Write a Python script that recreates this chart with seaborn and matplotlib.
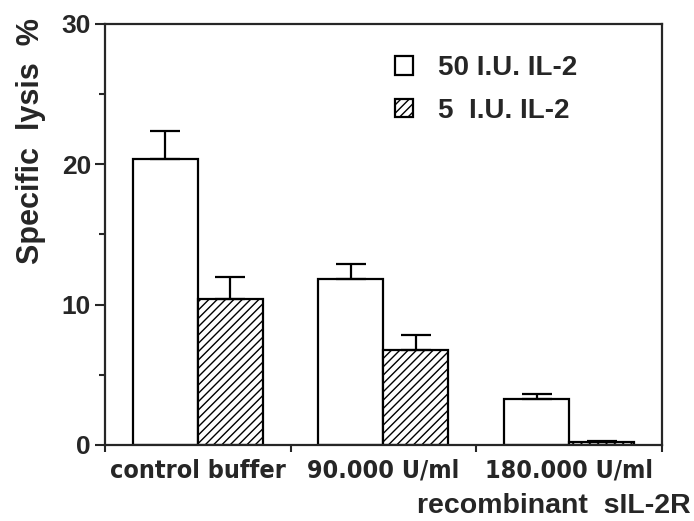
import pandas as pd
import matplotlib.pyplot as plt
import seaborn as sns
from matplotlib.patches import Patch

# Data
groups = ['control buffer', '90.000 U/ml', '180.000 U/ml']
doses = ['50 I.U. IL-2', '5  I.U. IL-2']
lysis_50 = [20.4, 11.8, 3.3]
lysis_5 = [10.4, 6.8, 0.2]
err_50 = [2.0, 1.1, 0.35]
err_5 = [1.6, 1.0, 0.05]

df = pd.DataFrame({
    'group': groups * 2,
    'dose': [doses[0]] * 3 + [doses[1]] * 3,
    'lysis': lysis_50 + lysis_5,
})

sns.set_style('ticks')
plt.rcParams['font.family'] = ['Liberation Sans', 'DejaVu Sans']
plt.rcParams['hatch.linewidth'] = 1.0

fig = plt.figure(figsize=(6.94, 5.21), dpi=100)
ax = fig.add_axes([0.151, 0.146, 0.803, 0.808])

sns.barplot(data=df, x='group', y='lysis', hue='dose', order=groups,
            hue_order=doses, palette=['white', 'white'], edgecolor='black',
            linewidth=1.6, width=0.7, gap=0, legend=False, errorbar=None,
            saturation=1, ax=ax)

# one-sided (upward) error bars on each bar
errs = [err_50, err_5]
for cont, e in zip(ax.containers, errs):
    xs = [p.get_x() + p.get_width() / 2 for p in cont]
    ys = [p.get_height() for p in cont]
    ax.errorbar(xs, ys, yerr=[[0] * len(e), e], fmt='none', ecolor='black',
                elinewidth=1.6, capsize=11, capthick=1.6)

for p in ax.containers[1]:
    p.set_hatch('////')

ax.set_xlim(-0.5, 2.5)
ax.set_ylim(0, 30)
ax.set_yticks([0, 10, 20, 30])
ax.set_yticks([5, 15, 25], minor=True)
ax.tick_params(axis='y', which='major', length=7, width=1.5, labelsize=19, pad=3)
ax.tick_params(axis='y', which='minor', length=4, width=1.5)
for lab in ax.get_yticklabels():
    lab.set_fontweight('bold')

ax.set_xticks([-0.5, 0.5, 1.5, 2.5])
ax.set_xticklabels([])
ax.tick_params(axis='x', length=5, width=1.5)
for i, g in enumerate(groups):
    ax.text(i, -1.0, g, ha='center', va='top', fontsize=18, fontweight='bold',
            family='DejaVu Sans', fontstretch='condensed')

for s in ax.spines.values():
    s.set_linewidth(1.6)
    s.set_visible(True)

ax.set_xlabel('')
ax.set_ylabel('')
fig.text(0.045, 0.73, 'Specific  lysis  %', rotation=90, ha='center',
         va='center', fontsize=22, fontweight='bold')
fig.text(0.995, 0.028, 'recombinant  sIL-2R', ha='right', va='center',
         fontsize=20.5, fontweight='bold')

handles = [Patch(facecolor='white', edgecolor='black', linewidth=1.6),
           Patch(facecolor='white', edgecolor='black', linewidth=1.6, hatch='////')]
ax.legend(handles, doses, loc='upper left', bbox_to_anchor=(0.475, 0.985),
          frameon=False, prop={'weight': 'bold', 'size': 20},
          handlelength=0.65, handleheight=0.65, handletextpad=0.9, labelspacing=0.6)

fig.savefig('out.png', dpi=100)
